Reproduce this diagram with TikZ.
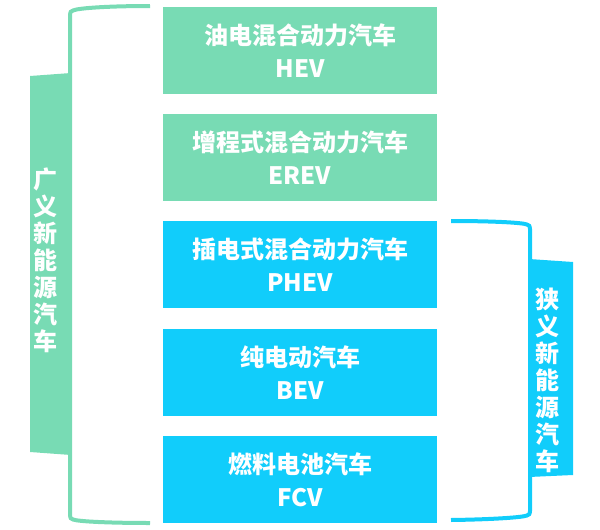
\documentclass[tikz,border=0pt]{standalone}
\usepackage{fontspec}
\newfontfamily\cjk{Noto Sans CJK SC}
\definecolor{grn}{RGB}{120,219,180}
\definecolor{cyn}{RGB}{17,205,251}

\begin{document}
\begin{tikzpicture}[x=1pt, y=-1pt, node distance={107.2pt},
    car/.style = {minimum width=274pt, minimum height=87pt, inner sep=0pt, text=white, align=center, font=\cjk\bfseries\fontsize{24}{33}\selectfont},
    gcar/.style = {car, fill=grn},
    bcar/.style = {car, fill=cyn},
    side/.style = {text=white, align=center, inner sep=0pt, font=\cjk\bfseries\fontsize{24}{27}\selectfont}]
    \useasboundingbox (0,0) rectangle (600,530);

    \node[gcar] (hev) at (300,50.5) {油电混合动力汽车\\HEV};
    \node[gcar] (erev) [below of=hev] {增程式混合动力汽车\\EREV};
    \node[bcar] (phev) [below of=erev] {插电式混合动力汽车\\PHEV};
    \node[bcar] (bev) [below of=phev] {纯电动汽车\\BEV};
    \node[bcar] (fcv) [below of=bev] {燃料电池汽车\\FCV};

    % broad sense
    \fill[grn] (30,76) -- (71,73) -- (71,455) -- (30,452) -- cycle;
    \draw[grn, line width=4pt] (150,6) .. controls (110,6) and (78,8) .. (73,10.5) .. controls (70.5,11.5) .. (70,15) -- (70,515) .. controls (70.5,518.5) .. (73,519.5) .. controls (78,521.5) and (110,523) .. (150,523);
    \node[side] (broad) at (45.5,260) {广\\义\\新\\能\\源\\汽\\车};

    % narrow sense
    \fill[cyn] (529,259) -- (573,262) -- (573,475) -- (529,477) -- cycle;
    \draw[cyn, line width=4pt] (451,221) .. controls (490,221) and (522,222.5) .. (527,224.5) .. controls (529.5,225.5) .. (530,229) -- (530,511) .. controls (529.5,514.5) .. (527,515.5) .. controls (522,517.5) and (490,519.5) .. (451,520);
    \node[side] (narrow) at (547,380) {狭\\义\\新\\能\\源\\汽\\车};
\end{tikzpicture}
\end{document}
